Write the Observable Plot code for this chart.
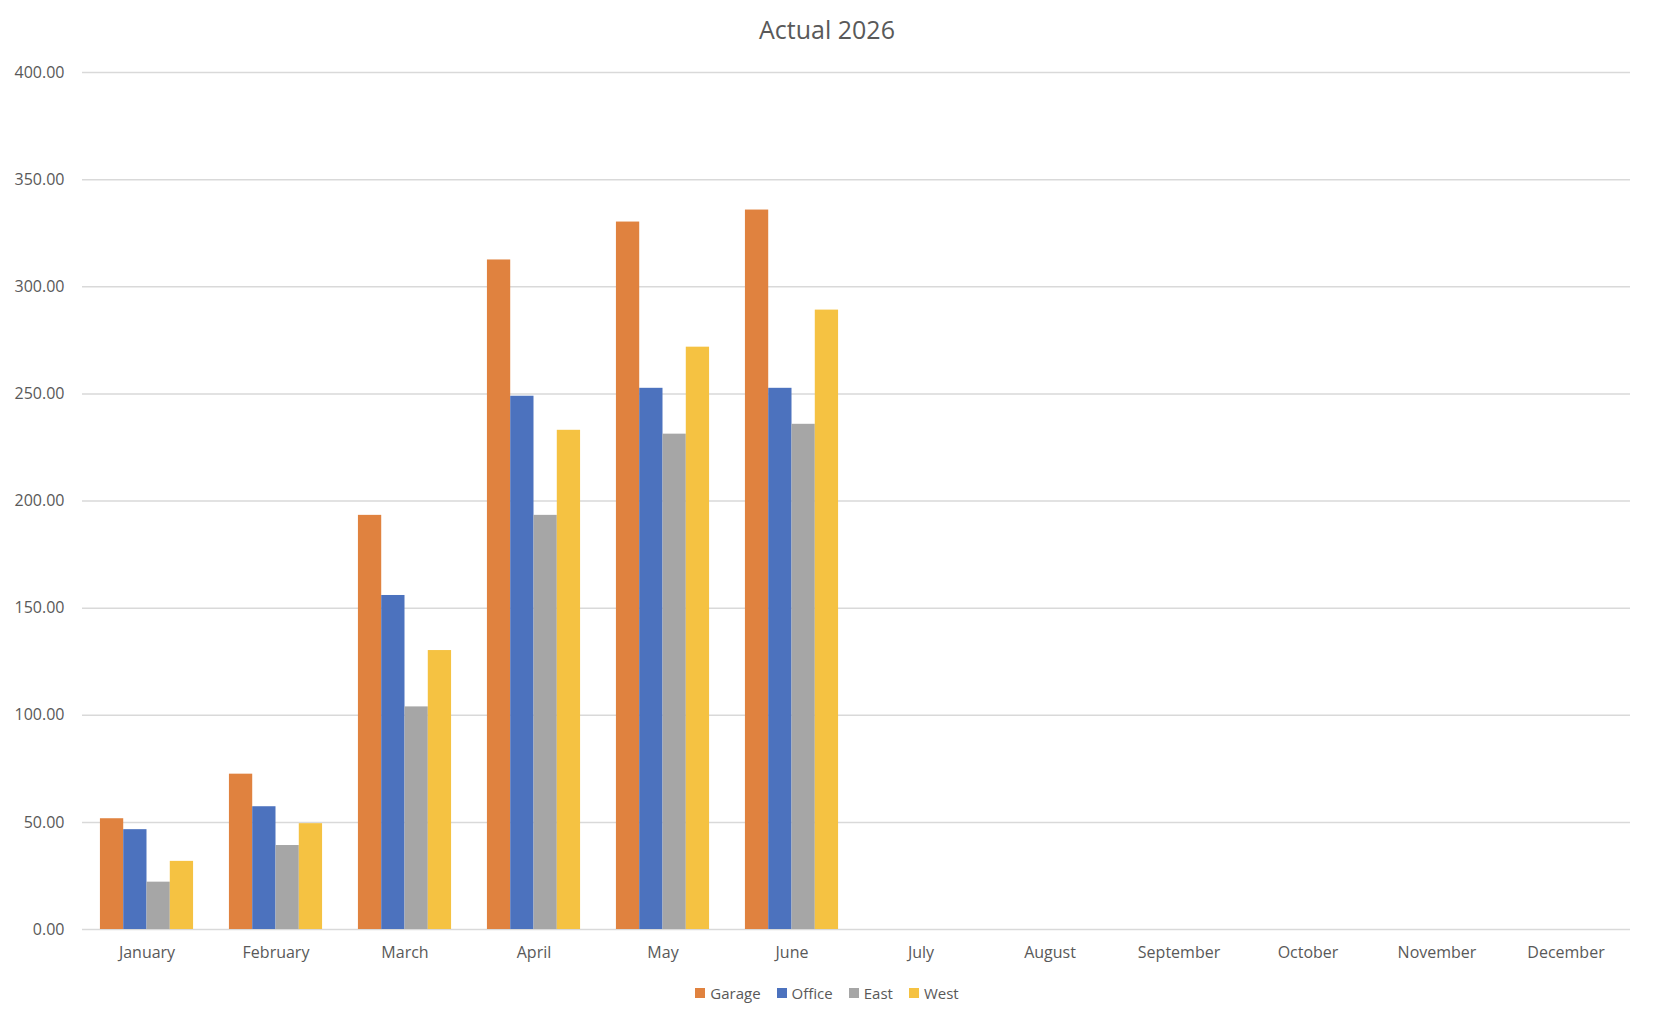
<!DOCTYPE html>
<html>
<head>
<meta charset="utf-8">
<script src="https://cdn.jsdelivr.net/npm/d3@7"></script>
<script src="https://cdn.jsdelivr.net/npm/@observablehq/plot@0.6"></script>
<style>
  html, body { margin: 0; padding: 0; background: #fff; }
  body { width: 1654px; font-family: "Open Sans", sans-serif; color: #595959; }
  #title { height: 59px; line-height: 59px; font-size: 25px; text-align: center; color: #595959; }
  #legend { height: 38px; display: flex; justify-content: center; align-items: center; font-size: 15px; color: #595959; }
  .item { display: flex; align-items: center; margin: 0 8px; }
  .sw { width: 10px; height: 10px; margin-right: 5px; }
  svg { display: block; }
</style>
</head>
<body>
<div id="title">Actual 2026</div>
<div id="chart"></div>
<div id="legend"></div>
<script>
const months = ["January","February","March","April","May","June","July","August","September","October","November","December"];
const seriesNames = ["Garage","Office","East","West"];
const garage = [51.7, 72.5, 193.3, 312.5, 330.2, 335.8, null, null, null, null, null, null];
const office = [46.6, 57.3, 155.9, 248.9, 252.6, 252.6, null, null, null, null, null, null];
const east   = [22.1, 39.2, 103.9, 193.3, 231.2, 235.8, null, null, null, null, null, null];
const west   = [31.8, 49.4, 130.2, 233.0, 271.8, 289.1, null, null, null, null, null, null];
const yTicks = [0, 50, 100, 150, 200, 250, 300, 350, 400];
const colors = ["#E0823F", "#4C72BE", "#A6A6A6", "#F5C242"];

const seriesValues = [garage, office, east, west];
const data = [];
months.forEach((m, i) => {
  seriesNames.forEach((s, j) => {
    data.push({month: m, series: s, value: seriesValues[j][i]});
  });
});

const chart = Plot.plot({
  width: 1654,
  height: 915,
  marginTop: 13,
  marginBottom: 45,
  marginLeft: 78,
  marginRight: 20,
  style: {fontFamily: "Open Sans", fontSize: "16px", color: "#595959", background: "#fff"},
  fx: {domain: months, padding: 0, label: null, axis: "bottom", tickSize: 0, tickPadding: 17.6},
  x: {domain: seriesNames, paddingInner: 0, paddingOuter: 0.77, axis: null, round: false},
  y: {domain: [0, 400], ticks: yTicks, tickFormat: d3.format(".2f"), tickSize: 0, tickPadding: 18, label: null, grid: false},
  color: {domain: seriesNames, range: colors},
  marks: [
    Plot.ruleY(yTicks, {stroke: "#d9d9d9", strokeWidth: 1.5}),
    Plot.barY(data, {fx: "month", x: "series", y: "value", fill: "series", inset: 0})
  ]
});
document.getElementById("chart").appendChild(chart);

const legend = document.getElementById("legend");
seriesNames.forEach((s, j) => {
  const it = document.createElement("div");
  it.className = "item";
  const sw = document.createElement("div");
  sw.className = "sw";
  sw.style.background = colors[j];
  const t = document.createElement("span");
  t.textContent = s;
  it.appendChild(sw);
  it.appendChild(t);
  legend.appendChild(it);
});
</script>
</body>
</html>
